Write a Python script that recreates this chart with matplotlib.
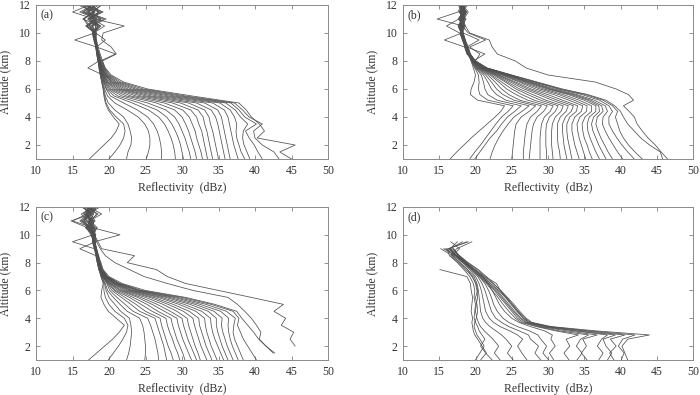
import numpy as np
import matplotlib.pyplot as plt

plt.rcParams['font.family'] = ['Liberation Serif', 'DejaVu Serif']

nan = np.nan

# altitude levels (km) for panels (a) and (c)
alt_ac = [1, 1.5, 2, 2.5, 3, 3.5, 4, 4.5, 5, 5.5, 6, 6.5, 7,
          7.5, 8, 8.5, 9, 9.5, 10, 10.5, 11, 11.5, 12]

# panel (a): one row per profile, dBZ at alt_ac
dbz_a = [
    [17.3, 18.3, 19.3, 20.3, 21.0, 21.4, 20.6, 19.9, 19.5, 19.3, 19.2, 19.0, 18.8, 18.6, 18.5, 18.3, 18.2, 18.0, 17.8, 17.4, 16.6, 17.9, 17.0],
    [20.0, 20.8, 21.5, 22.0, 22.2, 22.0, 21.0, 20.1, 19.6, 19.4, 19.2, 19.0, 18.8, 18.7, 18.5, 18.4, 18.2, 18.1, 17.9, 18.5, 17.8, 16.5, 17.6],
    [22.4, 22.6, 23.0, 23.1, 22.9, 22.6, 22.0, 20.8, 19.9, 19.5, 19.3, 19.1, 18.9, 18.7, 18.6, 18.4, 18.3, 18.0, 18.1, 16.9, 18.7, 17.9, 16.2],
    [25.1, 25.4, 25.6, 25.6, 25.4, 24.9, 24.0, 22.5, 20.8, 19.8, 19.4, 19.2, 18.9, 18.7, 18.5, 18.3, 18.2, 17.9, 17.7, 18.9, 17.3, 19.0, 17.4],
    [27.2, 27.2, 27.1, 26.9, 26.6, 26.1, 25.3, 23.9, 22.0, 20.2, 19.6, 19.3, 19.0, 18.8, 18.6, 18.5, 18.4, 18.2, 18.3, 17.6, 19.6, 17.0, 18.2],
    [29.1, 29.0, 28.8, 28.5, 28.1, 27.6, 26.8, 25.4, 23.2, 20.7, 19.7, 19.3, 19.0, 18.8, 18.6, 18.4, 18.2, 18.0, 17.9, 18.2, 17.1, 18.8, 16.6],
    [30.2, 30.0, 29.8, 29.5, 29.1, 28.6, 27.9, 26.6, 24.2, 21.2, 19.9, 19.4, 19.1, 18.9, 18.7, 18.5, 18.3, 18.1, 18.0, 17.0, 18.4, 16.0, 17.8],
    [31.2, 31.0, 30.7, 30.4, 30.0, 29.6, 29.0, 27.8, 25.3, 21.8, 20.1, 19.5, 19.1, 18.8, 18.6, 18.4, 18.2, 18.0, 17.8, 18.6, 17.5, 17.9, 15.8],
    [32.0, 31.8, 31.5, 31.2, 30.9, 30.5, 30.0, 29.0, 26.5, 22.4, 20.3, 19.6, 19.2, 18.9, 18.7, 18.5, 18.3, 18.2, 18.1, 16.8, 18.0, 17.2, 18.6],
    [32.8, 32.6, 32.3, 32.0, 31.8, 31.4, 31.0, 30.1, 27.6, 23.0, 20.6, 19.7, 19.2, 17.1, 18.6, 18.5, 18.4, 18.2, 17.9, 17.8, 19.3, 16.6, 17.6],
    [33.5, 33.3, 33.1, 32.9, 32.7, 32.3, 32.0, 31.2, 28.7, 23.7, 20.9, 19.8, 19.3, 18.9, 18.7, 18.5, 18.2, 18.1, 18.0, 18.8, 16.4, 18.1, 17.1],
    [34.2, 34.0, 33.8, 33.6, 33.4, 33.1, 32.9, 32.2, 29.8, 24.4, 21.2, 19.9, 19.3, 19.0, 18.8, 20.9, 18.3, 19.5, 18.2, 17.3, 18.3, 17.7, 19.0],
    [35.0, 34.8, 34.6, 34.4, 34.2, 33.9, 33.7, 33.1, 30.9, 25.1, 21.5, 20.1, 19.4, 19.0, 18.7, 18.5, 18.2, 18.0, 17.8, 18.4, 17.1, 19.2, 16.9],
    [35.9, 35.7, 35.5, 35.3, 35.1, 34.9, 34.6, 34.0, 32.0, 25.8, 21.8, 20.3, 19.5, 19.1, 18.8, 18.5, 18.3, 15.3, 18.0, 17.5, 18.9, 16.3, 18.4],
    [36.6, 36.4, 36.2, 36.0, 35.8, 35.6, 35.4, 34.9, 33.1, 26.6, 22.2, 20.4, 19.5, 19.0, 18.7, 18.5, 18.2, 18.1, 17.9, 19.4, 17.7, 18.5, 16.7],
    [37.7, 37.4, 37.1, 36.9, 36.7, 36.5, 36.3, 35.8, 34.2, 27.4, 22.6, 20.6, 19.6, 19.2, 18.8, 18.6, 18.4, 18.2, 18.1, 17.2, 16.5, 17.8, 18.9],
    [38.6, 38.1, 37.8, 37.5, 37.4, 37.5, 37.2, 36.6, 35.2, 28.2, 23.1, 20.8, 19.7, 19.2, 18.8, 18.6, 18.3, 18.1, 18.0, 18.5, 17.9, 16.9, 17.5],
    [39.3, 38.9, 38.5, 38.3, 38.4, 39.0, 38.0, 37.3, 36.0, 29.0, 23.6, 21.0, 19.8, 19.3, 18.9, 18.6, 18.4, 18.2, 18.2, 17.7, 18.9, 17.4, 16.4],
    [41.0, 40.4, 39.9, 39.2, 38.7, 40.2, 38.6, 37.8, 36.7, 29.8, 24.1, 21.3, 19.9, 19.4, 19.0, 18.7, 18.3, 18.1, 17.9, 18.2, 17.4, 18.6, 17.7],
    [43.3, 42.6, 41.0, 40.0, 39.8, 41.0, 39.2, 38.3, 37.2, 30.5, 24.7, 21.6, 20.1, 19.4, 19.1, 18.8, 18.5, 18.3, 18.0, 16.9, 18.2, 17.1, 18.0],
    [45.0, 43.4, 45.5, 40.3, 41.3, 40.6, 39.5, 38.8, 37.8, 31.4, 25.3, 22.0, 20.3, 19.5, 19.1, 21.0, 20.3, 19.0, 19.2, 22.1, 18.0, 15.0, 17.3],
]

# panel (b)
alt_b = [1, 1.5, 2, 2.5, 3, 3.5, 4, 4.4, 4.8, 5.2, 5.6, 6, 6.5, 7, 7.5, 8,
         8.5, 9, 9.5, 10, 10.5, 11, 11.5, 12]

dbz_b = [
    [16.5, 17.4, 18.4, 19.4, 20.5, 21.6, 22.7, 23.5, 24.0, 20.3, 19.3, 19.4, 19.8, 20.0, 19.7, 19.4, 19.0, 18.6, 18.3, 18.0, 17.6, 18.3, 18.0, 18.6],
    [19.2, 19.9, 20.7, 21.4, 22.1, 22.8, 23.6, 24.5, 25.2, 21.7, 20.6, 20.4, 20.5, 20.4, 19.9, 19.4, 19.1, 18.8, 18.5, 18.2, 18.1, 17.9, 18.6, 18.1],
    [19.9, 20.6, 21.3, 22.0, 22.9, 23.6, 24.4, 25.4, 26.3, 23.0, 21.7, 21.3, 21.1, 20.8, 20.0, 19.5, 18.9, 18.7, 18.4, 17.9, 18.3, 18.6, 17.8, 18.4],
    [22.0, 22.3, 22.7, 23.2, 23.8, 24.5, 25.3, 26.4, 27.4, 24.2, 22.9, 22.2, 21.7, 21.1, 20.1, 19.5, 19.0, 18.6, 18.2, 18.1, 17.8, 18.0, 18.4, 17.7],
    [25.0, 25.1, 25.2, 25.3, 25.4, 25.6, 26.3, 27.4, 28.3, 25.3, 23.8, 22.9, 22.2, 21.4, 20.2, 19.6, 19.2, 18.8, 18.4, 18.2, 18.4, 17.7, 18.2, 18.9],
    [26.6, 26.6, 26.7, 26.8, 26.9, 27.1, 27.6, 28.5, 29.1, 26.1, 24.6, 23.6, 22.7, 21.7, 20.3, 19.6, 18.9, 18.6, 18.5, 18.0, 17.7, 18.4, 18.7, 18.0],
    [27.4, 27.5, 27.6, 27.7, 27.8, 28.0, 28.5, 29.4, 29.9, 27.2, 25.6, 24.3, 23.2, 22.0, 20.4, 19.6, 19.1, 18.7, 18.3, 18.1, 18.2, 18.0, 17.9, 18.3],
    [28.9, 28.9, 28.9, 28.9, 29.0, 29.1, 29.5, 30.3, 30.7, 28.1, 26.4, 25.0, 23.6, 22.2, 20.5, 19.7, 21.3, 18.8, 20.5, 18.3, 17.9, 18.2, 18.5, 17.8],
    [29.8, 29.8, 29.7, 29.7, 29.7, 29.8, 30.2, 31.0, 31.4, 29.0, 27.2, 25.6, 24.1, 22.5, 20.6, 19.7, 19.0, 18.6, 18.2, 17.8, 16.0, 17.7, 18.3, 18.5],
    [30.7, 30.6, 30.5, 30.5, 30.5, 30.6, 31.0, 31.8, 32.1, 29.7, 27.9, 26.1, 24.4, 22.7, 20.7, 19.7, 19.1, 18.7, 18.4, 18.0, 18.3, 14.7, 17.6, 18.0],
    [31.7, 31.6, 31.4, 31.3, 31.3, 31.3, 31.7, 32.5, 32.8, 30.6, 28.7, 26.7, 24.8, 22.9, 20.8, 19.7, 18.9, 18.5, 15.7, 18.1, 17.8, 18.4, 19.0, 18.2],
    [32.6, 32.4, 32.2, 32.1, 32.0, 32.0, 32.4, 33.2, 33.5, 31.3, 29.3, 27.2, 25.2, 23.1, 20.9, 19.8, 19.0, 18.8, 18.5, 18.2, 18.6, 18.0, 18.2, 17.6],
    [33.3, 33.1, 32.9, 32.7, 32.6, 32.6, 33.0, 33.9, 34.1, 32.0, 30.0, 27.7, 25.5, 23.3, 21.0, 19.8, 19.2, 18.7, 18.3, 17.9, 18.0, 18.7, 17.7, 18.4],
    [34.3, 34.0, 33.7, 33.5, 33.3, 33.3, 33.7, 34.6, 34.8, 32.9, 30.8, 28.3, 26.0, 23.6, 21.0, 19.8, 19.0, 18.6, 18.4, 18.2, 17.6, 18.1, 18.8, 18.0],
    [35.2, 34.9, 34.6, 34.3, 34.1, 34.0, 34.4, 35.3, 35.4, 33.6, 31.5, 28.9, 26.3, 23.8, 21.1, 19.9, 18.8, 18.5, 18.3, 18.1, 18.3, 17.8, 18.1, 18.7],
    [36.1, 35.7, 35.4, 35.0, 34.8, 34.7, 35.1, 36.0, 36.0, 34.3, 32.1, 29.4, 26.7, 24.0, 21.2, 19.9, 19.1, 18.9, 18.5, 18.0, 18.1, 18.5, 17.9, 18.2],
    [37.1, 36.6, 36.2, 35.8, 35.5, 35.4, 35.7, 36.6, 36.6, 35.0, 32.8, 29.9, 27.0, 24.2, 21.3, 19.9, 19.3, 19.0, 18.6, 18.3, 17.9, 18.2, 18.6, 17.9],
    [38.0, 37.5, 37.0, 36.6, 36.2, 36.0, 36.3, 37.1, 37.0, 35.5, 33.2, 30.2, 27.3, 24.3, 21.3, 19.9, 19.0, 18.7, 18.2, 17.9, 18.4, 17.6, 18.3, 18.5],
    [38.9, 38.3, 37.8, 37.3, 36.9, 36.6, 36.8, 37.6, 37.4, 35.9, 33.6, 30.5, 27.5, 24.4, 21.4, 19.9, 19.2, 18.8, 18.4, 18.2, 18.0, 18.3, 17.8, 18.1],
    [40.3, 39.6, 39.0, 38.4, 37.9, 37.5, 37.6, 38.2, 37.9, 36.4, 34.0, 30.9, 27.7, 24.6, 21.4, 20.0, 19.1, 18.6, 18.3, 18.0, 18.5, 18.1, 18.4, 17.8],
    [41.9, 41.0, 40.2, 39.5, 38.9, 38.4, 38.4, 38.9, 38.4, 37.1, 34.7, 31.4, 28.1, 24.8, 21.5, 20.0, 20.6, 19.2, 21.4, 19.0, 18.2, 17.9, 18.5, 18.3],
    [43.0, 42.0, 41.1, 40.4, 39.9, 39.6, 39.3, 39.6, 38.9, 37.6, 35.2, 31.7, 28.3, 24.9, 21.6, 20.0, 19.3, 18.9, 18.5, 18.1, 17.8, 18.4, 18.0, 18.6],
    [45.8, 45.5, 44.0, 42.8, 41.9, 41.0, 40.4, 40.0, 39.2, 38.0, 35.5, 32.0, 28.5, 25.0, 21.6, 20.0, 19.2, 18.8, 18.6, 18.3, 18.1, 18.0, 18.7, 18.2],
    [46.5, 45.6, 44.8, 43.8, 43.0, 42.3, 41.9, 41.2, 40.4, 41.8, 41.1, 39.4, 36.5, 30.0, 27.0, 25.5, 23.0, 22.3, 21.9, 19.2, 18.6, 18.3, 18.7, 18.0],
]

# panel (c), same levels as (a)
dbz_c = [
    [17.2, 18.3, 19.4, 20.5, 21.4, 22.1, 21.0, 19.9, 19.3, 18.9, 19.0, 19.2, 18.9, 18.6, 18.4, 18.3, 18.1, 17.9, 17.7, 17.2, 16.5, 17.6, 16.8],
    [19.9, 20.6, 21.3, 21.9, 22.4, 22.6, 22.1, 20.8, 20.0, 19.5, 19.3, 19.3, 18.9, 18.7, 18.5, 18.4, 18.2, 18.0, 17.9, 18.3, 17.0, 16.2, 17.9],
    [22.4, 22.7, 22.9, 23.0, 23.1, 23.0, 22.8, 21.6, 20.8, 20.0, 19.6, 19.4, 19.0, 18.8, 18.6, 18.3, 18.1, 17.8, 18.2, 16.8, 17.8, 17.4, 16.5],
    [24.9, 25.0, 25.0, 24.9, 24.8, 24.6, 24.2, 22.5, 21.5, 20.6, 19.8, 19.5, 19.0, 18.7, 18.4, 18.2, 16.0, 18.1, 17.6, 17.9, 15.0, 17.0, 18.2],
    [26.8, 26.7, 26.5, 26.3, 26.0, 25.7, 25.3, 23.3, 22.2, 21.1, 20.1, 19.7, 19.1, 18.8, 18.5, 18.4, 18.3, 18.0, 18.0, 17.3, 17.6, 18.3, 17.1],
    [27.9, 27.7, 27.5, 27.2, 26.9, 26.6, 26.3, 24.2, 23.0, 21.7, 20.4, 19.8, 19.1, 18.6, 18.4, 18.2, 18.0, 15.0, 17.8, 17.5, 18.0, 16.8, 17.7],
    [28.8, 28.5, 28.1, 27.8, 27.5, 27.2, 27.0, 25.0, 23.7, 22.2, 20.7, 19.9, 19.2, 18.8, 18.6, 18.5, 18.2, 17.9, 17.5, 16.9, 17.4, 17.9, 16.2],
    [29.7, 29.4, 29.0, 28.7, 28.3, 28.0, 27.8, 25.9, 24.4, 22.8, 20.9, 20.0, 19.2, 18.7, 18.5, 18.3, 18.1, 18.2, 18.1, 18.0, 16.7, 17.2, 18.4],
    [30.4, 30.1, 29.7, 29.3, 29.0, 28.7, 28.5, 26.7, 25.2, 23.3, 21.2, 20.1, 19.3, 18.9, 18.6, 18.4, 18.2, 18.0, 21.5, 17.8, 17.9, 16.5, 17.3],
    [31.3, 30.9, 30.5, 30.1, 29.8, 29.5, 29.3, 27.6, 25.9, 23.9, 21.5, 20.2, 19.3, 18.7, 18.4, 18.3, 18.0, 17.8, 17.7, 17.1, 14.8, 17.7, 18.0],
    [32.0, 31.6, 31.2, 30.8, 30.5, 30.2, 30.0, 28.4, 26.6, 24.4, 21.7, 20.3, 19.3, 18.8, 18.5, 18.4, 18.3, 18.1, 17.9, 17.7, 17.2, 18.5, 16.9],
    [32.5, 32.2, 31.8, 31.5, 31.2, 30.9, 30.7, 29.3, 27.4, 25.0, 22.0, 20.5, 19.4, 18.9, 18.7, 18.5, 18.2, 17.9, 17.6, 18.4, 17.5, 16.8, 17.6],
    [33.4, 33.0, 32.6, 32.3, 32.0, 31.7, 31.5, 30.2, 28.1, 25.6, 22.3, 20.6, 19.4, 18.7, 18.5, 18.3, 18.1, 18.0, 18.0, 17.4, 16.6, 17.1, 18.8],
    [34.1, 33.7, 33.3, 33.0, 32.7, 32.4, 32.3, 31.0, 28.8, 26.1, 22.6, 20.7, 19.5, 18.8, 18.6, 18.4, 18.2, 18.1, 17.8, 17.0, 18.1, 17.5, 16.4],
    [34.8, 34.4, 34.0, 33.7, 33.4, 33.2, 33.1, 31.9, 29.6, 26.7, 22.9, 20.8, 19.5, 18.9, 18.6, 18.3, 18.0, 17.7, 17.9, 17.6, 17.3, 19.0, 17.2],
    [35.7, 35.3, 34.9, 34.5, 34.2, 34.0, 33.9, 32.7, 30.3, 27.2, 23.1, 20.9, 19.6, 18.8, 18.5, 18.4, 18.2, 18.0, 17.6, 18.1, 16.9, 17.3, 17.8],
    [36.3, 35.9, 35.5, 35.2, 34.9, 34.7, 34.7, 33.6, 31.1, 27.8, 23.4, 21.0, 19.6, 19.0, 18.7, 18.5, 18.1, 17.8, 18.0, 17.2, 17.7, 16.6, 17.4],
    [37.0, 36.6, 36.2, 35.9, 35.6, 35.4, 35.5, 34.4, 31.8, 28.3, 23.7, 21.2, 19.7, 18.9, 18.6, 18.3, 18.2, 18.0, 17.7, 17.5, 16.3, 17.8, 18.3],
    [37.7, 37.3, 36.9, 36.6, 36.4, 36.3, 36.4, 35.3, 32.5, 28.9, 24.0, 21.3, 19.7, 19.0, 18.8, 18.5, 18.3, 17.9, 17.8, 16.8, 17.5, 17.0, 16.7],
    [38.4, 38.0, 37.6, 37.2, 37.0, 37.1, 37.3, 36.1, 33.3, 29.4, 24.2, 21.4, 19.8, 19.1, 18.7, 18.4, 18.2, 18.1, 18.1, 17.9, 17.1, 17.6, 17.9],
    [40.2, 39.6, 39.0, 38.4, 38.0, 37.6, 37.8, 37.0, 34.0, 30.0, 24.5, 21.5, 19.8, 19.1, 18.8, 18.6, 18.3, 18.0, 17.6, 17.3, 16.0, 17.2, 17.0],
    [nan, 42.5, 41.5, 40.5, 39.8, 39.0, 38.2, 37.5, 34.5, 30.5, 25.0, 21.8, 20.0, 19.2, 18.9, 18.5, 18.2, 17.9, 17.8, 17.5, 17.8, 16.9, 18.1],
    [nan, nan, 45.5, 44.8, 45.3, 43.6, 44.2, 42.6, 43.9, 39.5, 35.0, 30.5, 28.0, 26.5, 22.5, 23.5, 19.0, 18.5, 18.0, 17.7, 17.4, 17.0, 17.6],
    [nan, 42.7, 41.5, 40.6, 40.8, 40.2, 39.5, 38.6, 37.6, 36.3, 31.5, 28.0, 24.8, 22.8, 20.8, 19.5, 18.8, 18.3, 18.1, 17.6, 16.2, 17.5, 17.1],
]

# panel (d)
alt_d = [1, 1.5, 2, 2.5, 2.8, 3.1, 3.4, 3.7, 4, 4.5, 5, 5.5, 6, 6.5, 7,
         7.5, 8, 8.5, 9, 9.5]

dbz_d = [
    [41.0, 40.6, 40.2, 41.0, 44.0, 36.5, 30.5, 27.8, 27.0, 26.1, 25.3, 24.4, 23.5, 22.4, 21.2, 19.9, 18.5, 17.3, 16.3, 18.8],
    [40.1, 40.5, 39.7, 40.3, 42.0, 35.5, 30.2, 27.6, 26.8, 25.9, 25.1, 24.3, 23.4, 22.5, 21.5, 20.4, 19.0, 17.8, 16.8, nan],
    [39.1, 38.5, 39.4, 38.6, 40.6, 34.8, 30.0, 27.4, 26.6, 25.7, 24.9, 24.1, 23.2, 22.1, 21.0, 19.8, 18.6, 17.4, 16.5, 17.5],
    [38.2, 38.8, 38.0, 37.6, 39.3, 34.0, 29.6, 27.3, 26.6, 25.8, 25.0, 24.2, 23.4, 22.9, 21.3, 20.2, 18.9, 17.6, 17.0, nan],
    [37.0, 37.6, 36.8, 37.4, 38.2, 33.5, 29.3, 27.1, 26.3, 25.4, 24.6, 23.8, 23.0, 22.0, 21.0, 19.9, 18.6, 17.5, 16.2, 19.0],
    [35.4, 34.6, 35.3, 34.8, 36.8, 32.5, 29.0, 26.9, 26.1, 25.2, 24.4, 23.6, 22.8, 21.8, 20.8, 19.8, 18.7, 17.6, 16.9, nan],
    [34.0, 34.7, 33.9, 34.5, 35.6, 31.5, 28.7, 26.6, 25.8, 25.0, 24.2, 23.4, 22.6, 21.7, 20.7, 19.6, 18.5, 17.4, 16.6, nan],
    [32.9, 32.2, 33.0, 32.5, 34.2, 31.0, 28.4, 26.3, 25.5, 24.6, 23.8, 23.1, 22.3, 21.5, 20.6, 19.5, 18.4, 17.2, 15.6, nan],
    [30.8, 30.2, 31.0, 30.4, 30.6, 29.5, 27.6, 26.0, 25.0, 24.0, 23.3, 22.8, 22.3, 21.7, 21.0, 19.9, 18.8, 17.8, 16.9, nan],
    [30.1, 29.3, 29.8, 29.0, 28.6, 27.4, 25.8, 24.6, 23.8, 23.0, 22.5, 22.2, 21.8, 21.3, 20.5, 19.5, 18.5, 17.3, 15.8, nan],
    [29.0, 28.2, 28.7, 27.6, 27.3, 26.0, 24.6, 23.6, 22.8, 22.2, 21.9, 21.6, 21.3, 20.9, 20.3, 19.4, 18.3, 17.2, 16.5, 18.2],
    [27.1, 26.4, 25.8, 26.5, 25.8, 24.7, 23.4, 22.5, 21.9, 21.4, 21.2, 21.0, 20.8, 20.5, 20.0, 19.2, 18.2, 17.0, 16.0, nan],
    [25.2, 24.4, 25.0, 24.2, 23.6, 22.8, 22.0, 21.4, 21.0, 20.7, 20.6, 20.5, 20.4, 20.2, 19.8, 18.9, 17.9, 16.8, 15.2, nan],
    [23.4, 22.6, 23.2, 22.4, 21.8, 21.2, 20.7, 20.4, 20.2, 20.0, 20.1, 20.3, 20.2, 20.0, 19.6, 18.6, 17.6, 16.6, 17.4, 19.5],
    [22.3, 21.4, 20.7, 21.3, 20.9, 20.5, 20.3, 20.0, 19.8, 19.9, 20.0, 19.8, 19.9, 19.7, 19.2, 18.4, 17.5, 16.4, 16.1, nan],
    [20.7, 21.5, 20.9, 20.3, 19.9, 19.7, 19.6, 19.5, 19.6, 19.4, 19.5, 19.6, 19.4, 19.3, 18.8, 15.1, nan, nan, nan, nan],
    [20.0, 20.6, 21.2, 20.6, 20.2, 20.0, 19.8, 19.9, 20.1, 20.3, 20.2, 20.0, 20.3, 20.1, 19.5, 18.9, 17.8, 16.8, 17.8, 16.6],
]

panels = [
    ('(a)', alt_ac, dbz_a, [36, 159, 292, 154]),
    ('(b)', alt_b, dbz_b, [403, 159, 290, 154]),
    ('(c)', alt_ac, dbz_c, [36, 360, 292, 153]),
    ('(d)', alt_d, dbz_d, [403, 360, 290, 153]),
]

W, H = 700, 395
fig = plt.figure(figsize=(W / 100, H / 100), dpi=100)
fig.patch.set_facecolor('white')

txt = '#333333'
for tag, alt, profiles, (x0, y0, w, h) in panels:
    ax = fig.add_axes([x0 / W, 1 - y0 / H, w / W, h / H])
    for row in profiles:
        ax.plot(row, alt, color='#505050', linewidth=0.55,
                solid_joinstyle='round')

    ax.set_xlim(10, 50)
    ax.set_ylim(1, 12)
    ax.set_xticks(range(10, 51, 5))
    ax.set_yticks(range(2, 13, 2))
    ax.tick_params(direction='in', top=True, right=True, length=3,
                   width=0.6, colors='#808080', labelcolor=txt,
                   labelsize=8.5, pad=4)
    for sp in ax.spines.values():
        sp.set_color('#8a8a8a')
        sp.set_linewidth(0.7)
    ax.set_xlabel('Reflectivity  (dBz)', fontsize=8.5, color=txt, labelpad=4)
    ax.set_ylabel('Altitude (km)', fontsize=8.5, color=txt, labelpad=5)
    ax.text(0.017, 0.93, tag, transform=ax.transAxes, fontsize=8.5,
            color=txt, ha='left', va='center')

fig.savefig('out.png', dpi=100)
